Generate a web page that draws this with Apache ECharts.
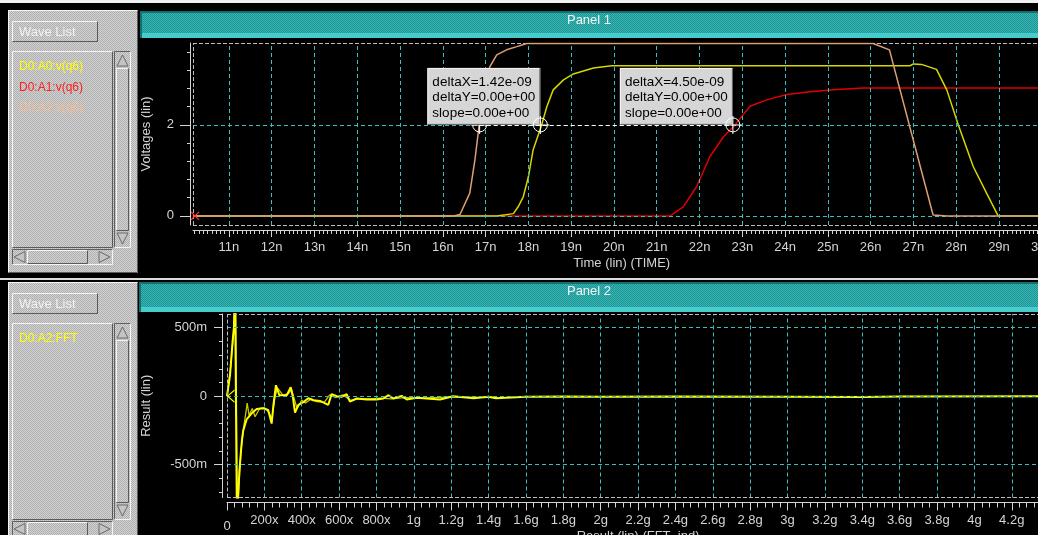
<!DOCTYPE html>
<html>
<head>
<meta charset="utf-8">
<script src="https://cdn.jsdelivr.net/npm/echarts@6/dist/echarts.min.js"></script>
<style>
html, body { margin: 0; padding: 0; background: #000; overflow: hidden; }
#main { width: 1060px; height: 535px; }
</style>
</head>
<body>
<div id="main"></div>
<script>
// ---- panel 1 : transient, time in ns ----
var waveNames1 = ['D0:A0:v(q6)', 'D0:A1:v(q6)', 'D0:A2:v(q6)'];
var waveNames2 = ['D0:A2:FFT'];

var a0T = [10.16, 17.26, 17.65, 17.76, 17.88, 18.0, 18.11, 18.31, 18.43, 18.58, 18.82, 19.05, 19.52, 19.95, 26.92, 27.0, 27.19, 27.54, 27.78, 28.05, 28.40, 28.71, 28.98, 29.18, 30.2];
var a0V = [0, 0, 0.05, 0.2, 0.42, 0.86, 1.45, 2.0, 2.40, 2.77, 2.99, 3.12, 3.25, 3.30, 3.30, 3.34, 3.33, 3.22, 2.77, 2.0, 1.08, 0.5, 0, 0, 0];

var a1T = [10.16, 21.31, 21.62, 21.93, 22.24, 22.56, 22.83, 23.18, 23.57, 24.04, 24.58, 25.21, 25.83, 30.2];
var a1V = [0, 0, 0.20, 0.64, 1.30, 1.74, 2.0, 2.41, 2.55, 2.67, 2.73, 2.78, 2.81, 2.81];

var a2T = [10.16, 16.25, 16.40, 16.63, 16.75, 16.85, 16.98, 17.10, 17.26, 17.49, 17.73, 17.96, 26.06, 26.44, 27.46, 27.78, 30.2];
var a2V = [0, 0, 0.03, 0.50, 1.23, 2.0, 2.84, 3.28, 3.54, 3.65, 3.72, 3.79, 3.79, 3.65, 0.02, 0, 0];

// measurement cursors (ns, V)
var cursorT = [16.86, 18.28, 22.78];
var cursorV = [2, 2, 2];

// ---- panel 2 : FFT, frequency in g ----
var fftF = [0, 0.016, 0.030, 0.037, 0.043, 0.053, 0.059, 0.066, 0.073, 0.080, 0.087, 0.105, 0.132, 0.159, 0.194, 0.220, 0.239, 0.248, 0.262, 0.280, 0.320, 0.341, 0.352, 0.364, 0.382, 0.408, 0.435, 0.462, 0.498, 0.542, 0.560, 0.587, 0.614, 0.640, 0.658, 0.694, 0.748, 0.800, 0.837, 0.864, 0.890, 0.935, 0.962, 1.015, 1.140, 1.210, 1.320, 1.400, 1.440, 1.600, 1.800, 2.000, 2.400, 3.000, 3.400, 3.600, 4.400];
var fftV = [0, 0.15, 0.40, 0.50, 0.80, -0.90, -0.75, -0.55, -0.43, -0.32, -0.25, -0.17, -0.125, -0.093, -0.088, -0.10, -0.20, -0.07, 0.08, 0.007, 0.007, 0.065, 0, -0.12, -0.063, -0.044, -0.015, -0.03, -0.035, -0.063, 0.015, 0, -0.005, 0.015, -0.04, -0.017, -0.024, -0.024, -0.017, 0.007, -0.017, 0.002, -0.024, -0.012, -0.024, 0, -0.015, -0.005, -0.015, -0.005, -0.003, -0.004, -0.002, -0.004, -0.006, -0.003, 0];
var fft2F = [0, 0.02, 0.035, 0.04, 0.046, 0.055, 0.062, 0.075, 0.09, 0.1, 0.108, 0.118, 0.135, 0.15, 0.175, 0.2, 0.225, 0.24, 0.255, 0.27, 0.3, 0.33, 0.345, 0.36, 0.375, 0.4, 0.42, 0.45, 0.48, 0.52, 0.55, 0.58, 0.62, 0.66, 0.7, 0.76, 0.82, 0.88, 0.95, 1.05, 1.2, 1.45];
var fft2V = [0, 0.22, 0.46, 0.62, 0.80, -0.90, -0.70, -0.40, -0.22, -0.13, -0.05, -0.14, -0.09, -0.15, -0.09, -0.085, -0.12, -0.17, -0.02, 0.06, 0.005, 0.02, 0.05, -0.02, -0.09, -0.03, -0.05, -0.02, -0.04, -0.045, 0.01, -0.01, 0.01, -0.03, -0.02, -0.02, -0.015, -0.02, -0.01, -0.015, -0.005, -0.01];

// ---- tick labels ----
var tMajor = [], tMinor = [];
for (var i = 11; i <= 30; i++) tMajor.push(i);
for (var i = 102; i <= 302; i++) tMinor.push(i / 10);
var v1Major = [0, 2];
var v1Minor = [0, 0.4, 0.8, 1.2, 1.6, 2, 2.4, 2.8, 3.2, 3.6];
var fMajor = [], fMinor = [];
for (var i = 0; i <= 21; i++) fMajor.push(Math.round(i * 2) / 10);
for (var i = 0; i <= 110; i++) fMinor.push(Math.round(i * 4) / 100);
var r2Major = [-0.5, 0, 0.5];
var r2Minor = [-0.7, -0.6, -0.5, -0.4, -0.3, -0.2, -0.1, 0, 0.1, 0.2, 0.3, 0.4, 0.5, 0.6];

// ---- layout ----
var FONT = '"Liberation Sans", Arial, Helvetica, sans-serif';
var GRID_C = '#3cbcbc';
var AXIS_C = '#d4d4d4';
var FRAME_C = '#bcbcbc';

var X1_MIN = 10.16, X1_MAX = 30.2, Y1_MIN = -0.2, Y1_MAX = 3.8;
var G1 = { left: 193, top: 43, width: (X1_MAX - X1_MIN) * 42.78, height: 182 };
var X2_MIN = 0, X2_MAX = 4.4, Y2_MIN = -0.74, Y2_MAX = 0.6;
var G2 = { left: 227, top: 314, width: (X2_MAX - X2_MIN) * 186.85, height: 183.5 };

function zip(a, b) { return a.map(function (v, k) { return [v, b[k]]; }); }

function sci(v) {
    var m = v.toExponential(2).split('e');
    var e = parseInt(m[1], 10);
    return m[0] + 'e' + (e < 0 ? '-' : '+') + (Math.abs(e) < 10 ? '0' : '') + Math.abs(e);
}

function pattern(c1, c2) {
    var cv = document.createElement('canvas');
    cv.width = 2; cv.height = 2;
    var g = cv.getContext('2d');
    g.fillStyle = c1; g.fillRect(0, 0, 2, 2);
    g.fillStyle = c2; g.fillRect(0, 0, 1, 1); g.fillRect(1, 1, 1, 1);
    return { image: cv, repeat: 'repeat' };
}
var GRAY = pattern('#d2d2d2', '#b0b0b0');
var TEAL = pattern('#36b4b2', '#1f9695');

var gid = 0;
function bevel(x, y, w, h, fill, raised, z) {
    var lt = raised ? '#f4f4f4' : '#606060';
    var rb = raised ? '#5a5a5a' : '#f4f4f4';
    z = z || 0;
    gid++;
    return [
        { type: 'rect', id: 'r' + gid, z: z, silent: true, shape: { x: x, y: y, width: w, height: h }, style: { fill: fill } },
        { type: 'polyline', id: 'l' + gid, z: z, silent: true, shape: { points: [[x + 0.5, y + h - 0.5], [x + 0.5, y + 0.5], [x + w - 0.5, y + 0.5]] }, style: { stroke: lt, lineWidth: 1 } },
        { type: 'polyline', id: 'd' + gid, z: z, silent: true, shape: { points: [[x + 0.5, y + h - 0.5], [x + w - 0.5, y + h - 0.5], [x + w - 0.5, y + 0.5]] }, style: { stroke: rb, lineWidth: 1 } }
    ];
}
function txt(x, y, s, color, size, align, z) {
    gid++;
    return {
        type: 'text', id: 't' + gid, z: z || 1, silent: true,
        style: { text: s, x: x, y: y, fill: color, font: size + 'px ' + FONT, align: align || 'left', verticalAlign: 'middle', textAlign: align || 'left', textVerticalAlign: 'middle' }
    };
}
function tri(points) {
    gid++;
    return { type: 'polygon', id: 'p' + gid, z: 1, silent: true, shape: { points: points }, style: { fill: '#c4c4c4', stroke: '#6a6a6a', lineWidth: 1 } };
}

function sidePanel(top, bottom, names, colors) {
    var el = [];
    el = el.concat(bevel(8, top, 130, bottom - top, GRAY, true, 0));
    el = el.concat(bevel(12, top + 11, 86, 21, GRAY, true, 1));
    el.push(txt(19, top + 22, 'Wave List', '#f2f2f2', 13, 'left', 2));
    el = el.concat(bevel(12, top + 41, 101, 197, GRAY, true, 1));
    names.forEach(function (n, k) {
        el.push(txt(19, top + 57 + k * 20.5, n, colors[k], 12, 'left', 2));
    });
    // vertical scrollbar
    el = el.concat(bevel(114, top + 41, 17, 197, GRAY, false, 1));
    el.push(tri([[122.5, top + 45], [117, top + 56], [128, top + 56]]));
    el = el.concat(bevel(116, top + 58, 13, 163, GRAY, true, 1));
    el.push(tri([[117, top + 223], [128, top + 223], [122.5, top + 234]]));
    // horizontal scrollbar
    el = el.concat(bevel(12, top + 239, 101, 16, GRAY, false, 1));
    el.push(tri([[14, top + 247], [25, top + 241.5], [25, top + 252.5]]));
    el = el.concat(bevel(27, top + 240, 61, 14, GRAY, true, 1));
    el.push(tri([[99, top + 241.5], [99, top + 252.5], [110, top + 247]]));
    return el;
}
function header(x, y, h, label) {
    var el = [];
    gid++;
    el.push({ type: 'rect', id: 'h' + gid, z: 0, silent: true, shape: { x: x, y: y, width: 1060 - x, height: h }, style: { fill: TEAL } });
    el.push({ type: 'rect', id: 'hb' + gid, z: 0, silent: true, shape: { x: x, y: y + h - 5, width: 1060 - x, height: 5 }, style: { fill: '#46cccc' } });
    el.push({ type: 'rect', id: 'ht' + gid, z: 0, silent: true, shape: { x: x, y: y, width: 1060 - x, height: 2 }, style: { fill: '#137070' } });
    el.push({ type: 'rect', id: 'hl' + gid, z: 0, silent: true, shape: { x: x, y: y, width: 2, height: h }, style: { fill: '#137070' } });
    el.push(txt(589, y + 9, label, '#f4f4f4', 13, 'center', 1));
    return el;
}

function px1(t, v) {
    return [G1.left + (t - X1_MIN) / (X1_MAX - X1_MIN) * G1.width,
            G1.top + (Y1_MAX - v) / (Y1_MAX - Y1_MIN) * G1.height];
}
function annoBox(k) {
    var p = px1(cursorT[k + 1], cursorV[k + 1]);
    var w = 113, h = 57, x = p[0] - w, y = p[1] - h;
    var dx = (cursorT[k + 1] - cursorT[k]) * 1e-9;
    var dy = cursorV[k + 1] - cursorV[k];
    var lines = ['deltaX=' + sci(dx), 'deltaY=' + sci(dy), 'slope=' + sci(dy / dx)];
    var el = bevel(x, y, w, h, '#d6d6d6', true, 7);
    lines.forEach(function (s, j) { el.push(txt(x + 5, y + 14 + j * 15.5, s, '#000', 13.5, 'left', 7.5)); });
    return el;
}

var graphics = [];
graphics.push({ type: 'rect', id: 'topstrip', z: 0, silent: true, shape: { x: 0, y: 0, width: 1060, height: 3 }, style: { fill: '#f0f0f0' } });
graphics.push({ type: 'rect', id: 'sep', z: 0, silent: true, shape: { x: 0, y: 278, width: 1060, height: 2 }, style: { fill: '#dcdcdc' } });
graphics = graphics.concat(sidePanel(10, 273, waveNames1, ['#ffff00', '#ff2020', '#f4bc94']));
graphics = graphics.concat(sidePanel(282, 560, waveNames2, ['#ffff00']));
graphics = graphics.concat(header(140, 11, 27, 'Panel 1'));
graphics = graphics.concat(header(139, 282, 30, 'Panel 2'));
graphics = graphics.concat(annoBox(0));
graphics = graphics.concat(annoBox(1));

// ---- axes ----
function axisBase(grid, min, max, pos, offset) {
    return {
        type: 'value', gridIndex: grid, min: min, max: max, position: pos, offset: offset,
        axisLine: { show: false, onZero: false, lineStyle: { color: AXIS_C, width: 1 } },
        axisTick: { show: false },
        axisLabel: { show: false },
        splitLine: { show: false },
        minorTick: { show: false },
        minorSplitLine: { show: false },
        silent: true
    };
}
function majorAxis(grid, min, max, pos, offset, ticks, len, fmt, margin, name, nameGap) {
    var o = axisBase(grid, min, max, pos, offset);
    o.axisLine.show = true;
    o.axisTick = { show: true, customValues: ticks, length: len, lineStyle: { color: AXIS_C, width: 1 } };
    o.axisLabel = { show: true, customValues: ticks, formatter: fmt, color: AXIS_C, fontSize: 13, fontFamily: FONT, margin: margin, hideOverlap: false,
        rich: { z: { color: AXIS_C, fontSize: 13, fontFamily: FONT, padding: [6, 0, 0, 0] } } };
    o.name = name;
    o.nameLocation = 'middle';
    o.nameGap = nameGap;
    o.nameMoveOverlap = false;
    o.nameTextStyle = { color: AXIS_C, fontSize: 13, fontFamily: FONT };
    return o;
}
function minorAxis(grid, min, max, pos, offset, ticks, len) {
    var o = axisBase(grid, min, max, pos, offset);
    o.axisTick = { show: true, customValues: ticks, length: len, lineStyle: { color: AXIS_C, width: 1 } };
    return o;
}

function freqLabel(v) {
    if (v === 0) return '{z|0}';
    if (v < 1) return Math.round(v * 1000) + 'x';
    return (Math.round(v * 10) / 10) + 'g';
}
function resLabel(v) {
    if (v === 0) return '0';
    return Math.round(v * 1000) + 'm';
}

var xAxes = [
    majorAxis(0, X1_MIN, X1_MAX, 'bottom', 5, tMajor, 7, function (v) { return v + 'n'; }, 11, 'Time (lin) (TIME)', 27),
    minorAxis(0, X1_MIN, X1_MAX, 'bottom', 5, tMinor, 4),
    majorAxis(1, X2_MIN, X2_MAX, 'bottom', 5, fMajor, 8, freqLabel, 11, 'Result (lin) (FFT_ind)', 27),
    minorAxis(1, X2_MIN, X2_MAX, 'bottom', 5, fMinor, 5)
];
var yAxes = [
    majorAxis(0, Y1_MIN, Y1_MAX, 'left', 3, v1Major, 10, function (v) { return String(v); }, 16, 'Voltages (lin)', 37),
    minorAxis(0, Y1_MIN, Y1_MAX, 'left', 3, v1Minor, 3),
    majorAxis(1, Y2_MIN, Y2_MAX, 'left', 5, r2Major, 8, resLabel, 15, 'Result (lin)', 69),
    minorAxis(1, Y2_MIN, Y2_MAX, 'left', 5, r2Minor, 3)
];

// ---- gridlines and frames as mark lines ----
function markLines(list, color, dash) {
    return {
        silent: true, symbol: ['none', 'none'], animation: false,
        label: { show: false }, emphasis: { disabled: true },
        lineStyle: { color: color, type: dash, width: 1 },
        data: list
    };
}
var grid1Lines = tMajor.map(function (v) { return { xAxis: v }; }).concat(v1Major.map(function (v) { return { yAxis: v }; }));
var grid2Lines = fMajor.slice(1).map(function (v) { return { xAxis: v }; }).concat(r2Major.map(function (v) { return { yAxis: v }; }));
var frame1 = [{ xAxis: X1_MIN }, { yAxis: Y1_MAX }, { yAxis: Y1_MIN }];
var frame2 = [{ xAxis: X2_MIN }, { yAxis: Y2_MAX }, { yAxis: Y2_MIN }];

var PLUS = 'path://M0,8.5H18V9.5H0Z M8.5,0H9.5V18H8.5Z';
var lineColors1 = ['#d6d600', '#e00000', '#dca074'];

function wave(name, t, v, color, z) {
    return {
        name: name, type: 'line', xAxisIndex: 0, yAxisIndex: 0, data: zip(t, v),
        symbol: 'none', showSymbol: false, silent: true, z: z,
        lineStyle: { color: color, width: 1.5 }
    };
}
function helper(xi, yi, ml, z) {
    return { type: 'line', xAxisIndex: xi, yAxisIndex: yi, data: [], z: z, silent: true, markLine: ml };
}
var cursorPts = zip(cursorT, cursorV);

var series = [
    helper(0, 0, markLines(grid1Lines, GRID_C, [4, 3]), 1),
    helper(0, 0, markLines(frame1, FRAME_C, [4, 2]), 1),
    helper(2, 2, markLines(grid2Lines, GRID_C, [4, 3]), 1),
    helper(2, 2, markLines(frame2, FRAME_C, [4, 2]), 1),
    wave(waveNames1[1], a1T, a1V, lineColors1[1], 3),
    wave(waveNames1[0], a0T, a0V, lineColors1[0], 4),
    wave(waveNames1[2], a2T, a2V, lineColors1[2], 5),
    {
        type: 'scatter', xAxisIndex: 0, yAxisIndex: 0, data: cursorPts.slice(0, 1), z: 6, silent: true,
        symbol: 'circle', symbolSize: 14, itemStyle: { color: 'rgba(0,0,0,0)', borderColor: '#ffffff', borderWidth: 1, opacity: 1 },
        markLine: {
            silent: true, symbol: ['none', 'none'], animation: false, label: { show: false },
            lineStyle: { color: '#ffffff', type: [4, 3], width: 1 },
            data: [[{ coord: cursorPts[0] }, { coord: cursorPts[2] }]]
        }
    },
    { type: 'scatter', xAxisIndex: 0, yAxisIndex: 0, data: cursorPts.slice(0, 1), z: 6, silent: true,
      symbol: PLUS, symbolSize: 18, itemStyle: { color: '#ffffff', opacity: 1 } },
    { type: 'scatter', xAxisIndex: 0, yAxisIndex: 0, data: cursorPts.slice(1), z: 8, silent: true,
      symbol: 'circle', symbolSize: 14, itemStyle: { color: 'rgba(0,0,0,0)', borderColor: '#ffffff', borderWidth: 1, opacity: 1 } },
    { type: 'scatter', xAxisIndex: 0, yAxisIndex: 0, data: cursorPts.slice(1), z: 8, silent: true,
      symbol: PLUS, symbolSize: 18, itemStyle: { color: '#ffffff', opacity: 1 } },
    { type: 'scatter', xAxisIndex: 0, yAxisIndex: 0, data: [[X1_MIN, 0]], z: 6, silent: true,
      symbol: 'path://M0,0L10,10M10,0L0,10', symbolSize: 8, symbolOffset: [2, 0],
      itemStyle: { color: 'none', borderColor: '#ff3030', borderWidth: 1.3, opacity: 1 } },
    {
        name: waveNames2[0] + ' (b)', type: 'line', xAxisIndex: 2, yAxisIndex: 2, data: zip(fft2F, fft2V),
        symbol: 'none', showSymbol: false, silent: true, z: 3,
        lineStyle: { color: '#c8c800', width: 1.3 }
    },
    {
        name: waveNames2[0], type: 'line', xAxisIndex: 2, yAxisIndex: 2, data: zip(fftF, fftV),
        symbol: 'none', showSymbol: false, silent: true, z: 4,
        lineStyle: { color: '#ffff00', width: 2 }
    },
    { type: 'scatter', xAxisIndex: 2, yAxisIndex: 2, data: [[0, 0]], z: 6, silent: true,
      symbol: 'path://M10,0L0,10L10,20', symbolSize: [7, 12], symbolOffset: [4, 0],
      itemStyle: { color: 'none', borderColor: '#ffff00', borderWidth: 1, opacity: 1 } }
];

var chart = echarts.init(document.getElementById('main'), null, { renderer: 'canvas' });
chart.setOption({
    backgroundColor: '#000000',
    animation: false,
    textStyle: { fontFamily: FONT },
    grid: [
        { left: G1.left, top: G1.top, width: G1.width, height: G1.height, containLabel: false, outerBoundsMode: 'none' },
        { left: G2.left, top: G2.top, width: G2.width, height: G2.height, containLabel: false, outerBoundsMode: 'none' }
    ],
    xAxis: xAxes,
    yAxis: yAxes,
    graphic: { elements: graphics },
    series: series
});
</script>
</body>
</html>
